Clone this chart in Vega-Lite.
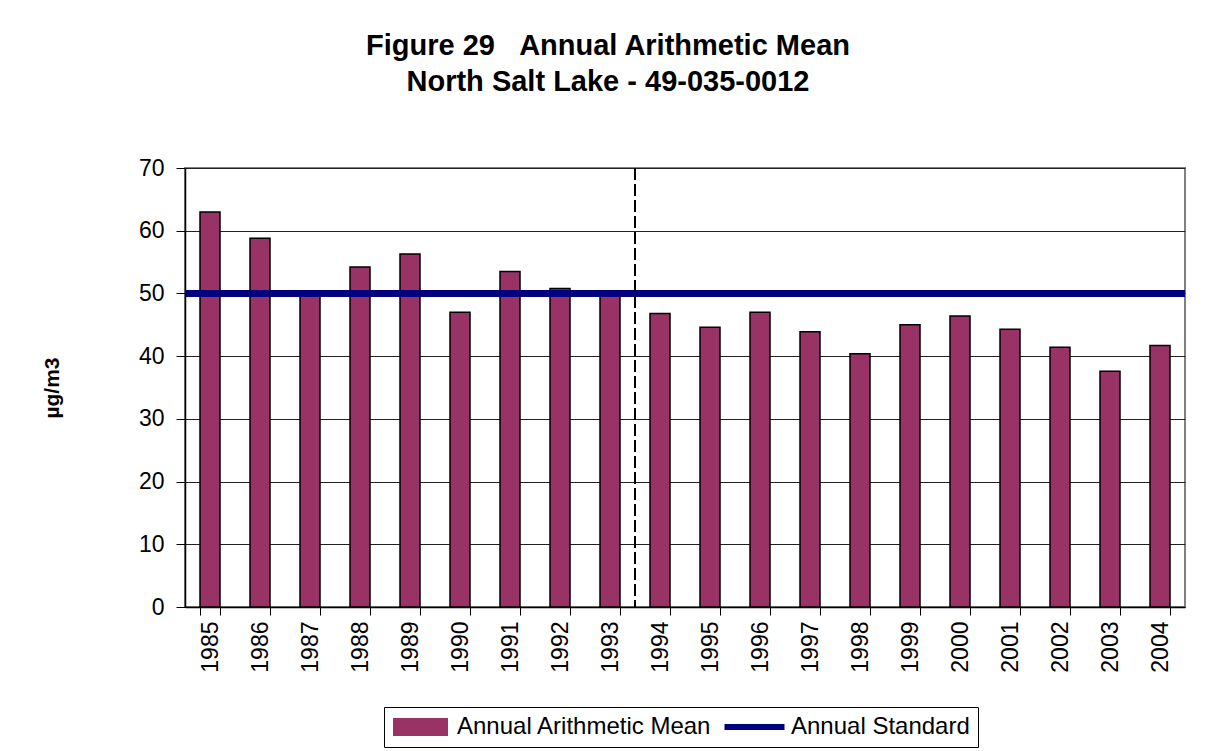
{
  "$schema": "https://vega.github.io/schema/vega-lite/v6.json",
  "autosize": {"type": "none"},
  "padding": {"left": 185, "top": 168, "right": 32, "bottom": 144},
  "width": 1000,
  "height": 439,
  "background": "white",
  "config": {
    "font": "Liberation Sans",
    "view": {"stroke": "#808080", "strokeWidth": 2},
    "axis": {"labelFont": "Liberation Sans", "titleFont": "Liberation Sans", "labelColor": "black", "titleColor": "black"}
  },
  "title": {
    "text": ["Figure 29\u00a0\u00a0\u00a0Annual Arithmetic Mean", "North Salt Lake - 49-035-0012"],
    "font": "Liberation Sans",
    "fontSize": 29,
    "fontWeight": "bold",
    "color": "black",
    "anchor": "middle",
    "frame": "group",
    "dx": -77,
    "offset": 60,
    "lineHeight": 36
  },
  "data": {
    "values": [
      {"year": "1985", "value": 63.0},
      {"year": "1986", "value": 58.8},
      {"year": "1987", "value": 50.3},
      {"year": "1988", "value": 54.2},
      {"year": "1989", "value": 56.3},
      {"year": "1990", "value": 47.0},
      {"year": "1991", "value": 53.5},
      {"year": "1992", "value": 50.8},
      {"year": "1993", "value": 49.8},
      {"year": "1994", "value": 46.8},
      {"year": "1995", "value": 44.6},
      {"year": "1996", "value": 47.0},
      {"year": "1997", "value": 43.9},
      {"year": "1998", "value": 40.4},
      {"year": "1999", "value": 45.0},
      {"year": "2000", "value": 46.4},
      {"year": "2001", "value": 44.3},
      {"year": "2002", "value": 41.4},
      {"year": "2003", "value": 37.6},
      {"year": "2004", "value": 41.7}
    ]
  },
  "layer": [
    {
      "mark": {"type": "bar", "stroke": "black", "strokeWidth": 1.5},
      "encoding": {
        "x": {
          "field": "year", "type": "ordinal",
          "scale": {"paddingInner": 0.6, "paddingOuter": 0.3},
          "axis": {
            "title": null, "labelAngle": 270, "labelFontSize": 23, "labelPadding": 6,
            "tickBand": "extent", "tickSize": 8, "tickColor": "black", "domainColor": "black",
            "domainWidth": 1.5, "grid": false
          }
        },
        "y": {
          "field": "value", "type": "quantitative",
          "scale": {"domain": [0, 70], "nice": false},
          "axis": {
            "title": "µg/m3", "titleFontSize": 21, "titleFontWeight": "bold", "titlePadding": 76,
            "values": [0, 10, 20, 30, 40, 50, 60, 70],
            "labelFontSize": 23, "labelPadding": 12, "tickSize": 9, "tickColor": "black",
            "domainColor": "black", "domainWidth": 1.5,
            "grid": true, "gridColor": "#222222", "gridWidth": 1
          }
        },
        "color": {
          "datum": "Annual Arithmetic Mean",
          "scale": {"domain": ["Annual Arithmetic Mean", "Annual Standard"], "range": ["#993366", "#000080"]},
          "legend": {
            "title": null,
            "orient": "none",
            "legendX": 199,
            "legendY": 539,
            "direction": "horizontal",
            "strokeColor": "black",
            "fillColor": "white",
            "padding": 8,
            "labelFont": "Liberation Sans",
            "labelFontSize": 24,
            "labelColor": "black",
            "labelLimit": 400,
            "labelOffset": 24.5,
            "symbolOffset": 16.5,
            "columnPadding": 0,
            "symbolSize": 400,
            "symbolOpacity": 1,
            "symbolType": {"expr": "datum.value === 'Annual Standard' ? 'M-3,0H3' : 'M-2.65,-0.8H2.65V0.8H-2.65Z'"},
            "symbolStrokeColor": {"expr": "datum.value === 'Annual Standard' ? '#000080' : '#000000'"},
            "symbolStrokeWidth": {"expr": "datum.value === 'Annual Standard' ? 6 : 2"}
          }
        }
      }
    },
    {
      "mark": {"type": "rule", "strokeWidth": 6},
      "encoding": {
        "y": {"datum": 50},
        "color": {"datum": "Annual Standard"}
      }
    },
    {
      "mark": {"type": "rule", "color": "black", "strokeWidth": 1.5, "strokeDash": [12, 4], "xOffset": -15},
      "encoding": {
        "x": {"datum": "1994", "type": "ordinal", "bandPosition": 0}
      }
    }
  ]
}
